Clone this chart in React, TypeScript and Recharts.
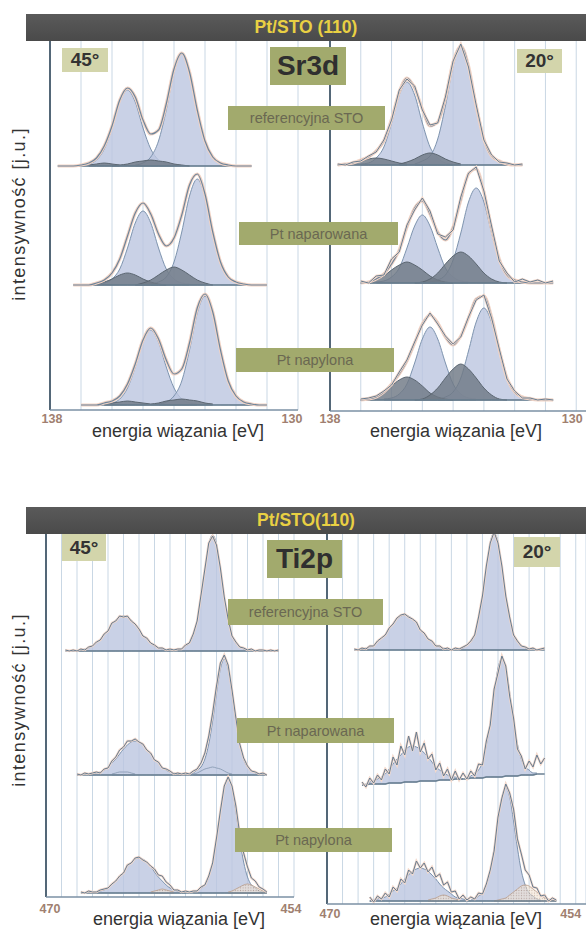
import React from 'react';
import { ComposedChart, Area, Line, XAxis, YAxis, CartesianGrid, ReferenceLine } from 'recharts';

// read-off step along the energy axis (eV)
const STEP = 0.25;

// x-axis: 1 eV grid lines, only the ends are labelled
const srTicks = [130, 131, 132, 133, 134, 135, 136, 137, 138];
const tiTicks = [454, 455, 456, 457, 458, 459, 460, 461, 462, 463, 464, 465, 466, 467, 468, 469, 470];
const srEnds = [138, 130];
const tiEnds = [470, 454];

// ---------- Sr3d, 45° (heights in arbitrary units, step 0.25 eV) ----------
// referencyjna STO
const srL1a = [1, 2, 6, 17, 38, 64, 76, 64, 38, 17, 6, 2, 1];
const srL1b = [1, 3, 9, 25, 56, 94, 112, 94, 56, 25, 9, 3, 1];
const srL1m1 = [1, 2, 3, 2, 1];
const srL1m2 = [0, 1, 2, 4, 5, 6, 5, 4, 2, 1, 0];
const srL1fit = [0, 0, 0, 1, 3, 8, 20, 40, 66, 78, 69, 46, 32, 36, 62, 97, 113, 94, 56, 25, 9, 3, 1, 0, 0, 0];
// Pt naparowana
const srL2a = [1, 2, 6, 16, 37, 62, 74, 62, 37, 16, 6, 2, 1];
const srL2b = [1, 3, 8, 23, 53, 89, 106, 89, 53, 23, 8, 3, 1];
const srL2m1 = [0, 1, 3, 6, 10, 12, 10, 6, 3, 1, 0];
const srL2m2 = [0, 2, 5, 10, 15, 18, 15, 10, 5, 2, 0];
const srL2fit = [0, 0, 0, 2, 5, 12, 26, 49, 72, 82, 71, 51, 39, 47, 70, 100, 111, 91, 53, 23, 8, 3, 1, 0, 0, 0];
// Pt napylona
const srL3a = [1, 2, 6, 17, 38, 63, 75, 63, 38, 17, 6, 2, 1];
const srL3b = [1, 3, 9, 24, 55, 92, 109, 92, 55, 24, 9, 3, 1];
const srL3m1 = [1, 2, 3, 4, 3, 2, 1];
const srL3m2 = [1, 2, 4, 5, 6, 5, 4, 2, 1];
const srL3fit = [0, 0, 0, 2, 4, 9, 21, 41, 65, 77, 66, 45, 31, 36, 62, 97, 111, 93, 55, 24, 9, 3, 1, 0, 0];

// ---------- Sr3d, 20° ----------
const srR1a = [1, 2, 7, 18, 42, 70, 83, 70, 42, 18, 7, 2, 1];
const srR1b = [1, 4, 9, 26, 59, 99, 118, 99, 59, 26, 9, 4, 1];
const srR1m1 = [1, 2, 4, 6, 7, 6, 4, 2, 1];
const srR1m2 = [1, 3, 6, 10, 12, 10, 6, 3, 1];
const srR1fit = [0, 1, 2, 5, 8, 14, 24, 46, 73, 87, 77, 56, 39, 43, 67, 103, 119, 99, 59, 26, 9, 4, 1, 0, 0];
const srR1meas = [1, 0, 3, 4, 9, 13, 25, 45, 75, 86, 79, 55, 40, 42, 68, 104, 121, 98, 60, 25, 10, 3, 2, 0, 1];

const srR2a = [1, 2, 6, 15, 35, 57, 68, 57, 35, 15, 6, 2, 1];
const srR2b = [1, 3, 8, 23, 50, 81, 95, 81, 50, 23, 8, 3, 1];
const srR2m1 = [0, 1, 3, 7, 13, 18, 21, 18, 13, 7, 3, 1, 0];
const srR2m2 = [0, 1, 4, 10, 19, 27, 31, 27, 19, 10, 4, 1, 0];
const srR2fit = [0, 1, 4, 9, 19, 33, 56, 75, 82, 69, 51, 43, 56, 83, 109, 114, 91, 54, 24, 8, 3, 1, 0, 0, 0, 0];
const srR2meas = [2, 0, 7, 8, 24, 31, 58, 73, 85, 72, 49, 46, 53, 86, 110, 116, 92, 57, 22, 10, 1, 4, 1, 3, 0, 2];

const srR3a = [1, 2, 6, 16, 37, 61, 73, 61, 37, 16, 6, 2, 1];
const srR3b = [1, 3, 8, 22, 49, 78, 92, 78, 49, 22, 8, 3, 1];
const srR3m1 = [0, 1, 3, 7, 14, 20, 23, 20, 14, 7, 3, 1, 0];
const srR3m2 = [0, 1, 5, 12, 22, 31, 36, 31, 22, 12, 5, 1, 0];
const srR3fit = [0, 1, 3, 8, 16, 26, 39, 57, 76, 85, 77, 63, 55, 64, 82, 101, 104, 83, 50, 22, 8, 3, 1, 0, 0, 0];
const srR3meas = [1, 2, 4, 9, 15, 28, 40, 58, 75, 87, 76, 64, 56, 63, 83, 100, 105, 82, 51, 21, 9, 2, 2, 0, 1, 0];

// ---------- Ti2p, 45° ----------
const tiL1a = [1, 2, 5, 8, 16, 31, 55, 82, 107, 116, 107, 82, 55, 31, 16, 8, 5, 2, 1];
const tiL1b = [0, 1, 2, 3, 5, 8, 12, 16, 21, 27, 31, 34, 35, 34, 31, 27, 21, 16, 12, 8, 5, 3, 2, 1, 0];
const tiL1meas = [1, 0, 1, 0, 2, 1, 4, 5, 9, 11, 17, 20, 28, 30, 35, 34, 35, 30, 27, 22, 15, 13, 8, 6, 3, 3, 1, 2, 1, 2,
  2, 6, 8, 17, 30, 56, 82, 108, 115, 106, 83, 54, 32, 15, 9, 4, 3, 1, 2, 0, 1, 1, 0, 1, 0, 1];

const tiL2a = [1, 2, 5, 8, 16, 31, 54, 82, 106, 116, 106, 82, 54, 31, 16, 8, 5, 2, 1];
const tiL2b = [0, 1, 2, 3, 5, 8, 12, 16, 21, 26, 30, 33, 34, 33, 30, 26, 21, 16, 12, 8, 5, 3, 2, 1, 0];
const tiL2m1 = [1, 2, 4, 6, 7, 8, 7, 6, 4, 2, 1];
const tiL2m2 = [1, 2, 3, 3, 3, 2, 1];
const tiL2meas = [1, 0, 2, 1, 2, 3, 2, 6, 7, 14, 18, 25, 28, 34, 34, 36, 33, 31, 25, 22, 15, 13, 7, 6, 4, 1, 2, 1, 2, 1,
  4, 6, 12, 22, 39, 62, 89, 112, 120, 110, 85, 57, 31, 17, 9, 4, 3, 1, 2, 0];

const tiL3a = [1, 2, 5, 8, 16, 31, 54, 82, 106, 115, 106, 82, 54, 31, 16, 8, 5, 2, 1];
const tiL3b = [0, 1, 2, 3, 5, 8, 12, 16, 21, 27, 31, 34, 35, 34, 31, 27, 21, 16, 12, 8, 5, 3, 2, 1, 0];
const tiL3s1 = [1, 2, 4, 6, 8, 9, 8, 6, 4, 2, 1];
const tiL3s2 = [1, 2, 3, 4, 3, 2, 1];
const tiL3meas = [1, 0, 2, 1, 1, 3, 4, 5, 9, 12, 17, 20, 28, 30, 35, 36, 33, 31, 27, 24, 18, 17, 11, 8, 3, 3, 1, 2, 1, 2,
  2, 6, 8, 17, 30, 55, 82, 107, 116, 107, 87, 59, 40, 26, 15, 12, 6, 4, 1];

// ---------- Ti2p, 20° ----------
const tiR1a = [1, 2, 5, 8, 16, 32, 55, 83, 108, 117, 108, 83, 55, 32, 16, 8, 5, 2, 1];
const tiR1b = [0, 1, 2, 3, 5, 8, 12, 16, 21, 27, 31, 34, 35, 34, 31, 27, 21, 16, 12, 8, 5, 3, 2, 1, 0];
const tiR1meas = [1, 0, 2, 1, 4, 4, 9, 12, 15, 22, 26, 32, 35, 36, 33, 31, 28, 20, 17, 11, 9, 4, 4, 1, 2, 0, 2, 1, 3, 5,
  9, 15, 33, 54, 84, 107, 118, 107, 84, 54, 33, 15, 9, 4, 3, 1, 2, 0, 1, 2];

const tiR2bg = [-11, -11, -10, -10, -10, -10, -10, -9, -9, -9, -9, -8, -8, -8, -8, -7, -7, -7, -7, -7, -6, -6, -6, -6,
  -5, -5, -5, -5, -4, -4, -4, -4, -3, -3, -3, -3, -3, -2, -2, -2, -2, -1, -1, -1, -1, 0, 0, 0];
const tiR2a = [1, 2, 5, 8, 16, 32, 55, 84, 109, 118, 109, 84, 55, 32, 16, 8, 5, 2, 1];
const tiR2b = [0, 1, 2, 3, 5, 7, 10, 14, 19, 24, 28, 32, 35, 36, 35, 32, 28, 24, 19, 14, 10, 7, 5, 3, 2, 1, 0];
const tiR2meas = [3, -2, 6, 1, 9, 4, 15, 9, 26, 18, 37, 27, 46, 31, 50, 29, 38, 22, 27, 11, 17, 4, 11, 0, 8, -1, 6, 0,
  7, 2, 14, 13, 36, 52, 88, 104, 121, 110, 80, 58, 27, 19, 6, 14, 8, 19, 10, 16];

const tiR3a = [1, 2, 5, 8, 16, 30, 53, 80, 104, 113, 104, 80, 53, 30, 16, 8, 5, 2, 1];
const tiR3b = [0, 1, 2, 3, 4, 7, 10, 13, 17, 22, 26, 30, 32, 33, 32, 30, 26, 22, 17, 13, 10, 7, 4, 3, 2, 1, 0];
const tiR3s1 = [0, 1, 2, 3, 6, 9, 12, 15, 16, 15, 12, 9, 6, 3, 2, 1, 0];
const tiR3s2 = [1, 2, 3, 5, 6, 5, 3, 2, 1];
const tiR3meas = [4, -1, 5, 2, 8, 4, 14, 10, 22, 18, 31, 27, 40, 33, 38, 29, 34, 24, 27, 16, 19, 9, 10, 2, 6, 1, 4, 2,
  8, 7, 17, 31, 50, 84, 103, 117, 108, 92, 62, 47, 31, 26, 14, 13, 5, 6, 0, 3, 1];

type Part = { from: number; v: number[] };
type Spectrum = {
  id: string;
  offset: number;
  span: [number, number];
  bg?: Part;
  main: Part[];
  minor?: Part[];
  thin?: Part[];
  dots?: Part[];
  fit?: Part;
  meas?: Part;
};

const srLeft: Spectrum[] = [
  { id: 'a1', offset: 244, span: [137.75, 131.5],
    main: [{ from: 137.0, v: srL1a }, { from: 135.25, v: srL1b }],
    minor: [{ from: 136.75, v: srL1m1 }, { from: 136.0, v: srL1m2 }],
    fit: { from: 137.75, v: srL1fit } },
  { id: 'a2', offset: 125, span: [137.25, 131.0],
    main: [{ from: 136.5, v: srL2a }, { from: 134.75, v: srL2b }],
    minor: [{ from: 136.75, v: srL2m1 }, { from: 135.25, v: srL2m2 }],
    fit: { from: 137.25, v: srL2fit } },
  { id: 'a3', offset: 5, span: [137.0, 131.0],
    main: [{ from: 136.25, v: srL3a }, { from: 134.5, v: srL3b }],
    minor: [{ from: 136.25, v: srL3m1 }, { from: 134.75, v: srL3m2 }],
    fit: { from: 137.0, v: srL3fit } },
];

const srRight: Spectrum[] = [
  { id: 'b1', offset: 246, span: [137.75, 131.75],
    main: [{ from: 137.0, v: srR1a }, { from: 135.25, v: srR1b }],
    minor: [{ from: 137.5, v: srR1m1 }, { from: 135.75, v: srR1m2 }],
    fit: { from: 137.75, v: srR1fit }, meas: { from: 137.75, v: srR1meas } },
  { id: 'b2', offset: 128, span: [137.0, 130.75],
    main: [{ from: 136.5, v: srR2a }, { from: 134.75, v: srR2b }],
    minor: [{ from: 137.0, v: srR2m1 }, { from: 135.25, v: srR2m2 }],
    fit: { from: 137.0, v: srR2fit }, meas: { from: 137.0, v: srR2meas } },
  { id: 'b3', offset: 11, span: [137.0, 130.75],
    main: [{ from: 136.25, v: srR3a }, { from: 134.5, v: srR3b }],
    minor: [{ from: 137.0, v: srR3m1 }, { from: 135.25, v: srR3m2 }],
    fit: { from: 137.0, v: srR3fit }, meas: { from: 137.0, v: srR3meas } },
];

const tiLeft: Spectrum[] = [
  { id: 'c1', offset: 246, span: [468.75, 455.0],
    main: [{ from: 468.0, v: tiL1b }, { from: 461.5, v: tiL1a }],
    meas: { from: 468.75, v: tiL1meas } },
  { id: 'c2', offset: 122, span: [468.0, 455.75],
    main: [{ from: 467.25, v: tiL2b }, { from: 460.75, v: tiL2a }],
    thin: [{ from: 460.5, v: tiL2m1 }, { from: 465.75, v: tiL2m2 }],
    meas: { from: 468.0, v: tiL2meas } },
  { id: 'c3', offset: 4, span: [467.75, 455.75],
    main: [{ from: 467.0, v: tiL3b }, { from: 460.5, v: tiL3a }],
    dots: [{ from: 458.25, v: tiL3s1 }, { from: 463.25, v: tiL3s2 }],
    meas: { from: 467.75, v: tiL3meas } },
];

const tiRight: Spectrum[] = [
  { id: 'd1', offset: 254, span: [468.25, 456.0],
    main: [{ from: 468.0, v: tiR1b }, { from: 461.5, v: tiR1a }],
    meas: { from: 468.25, v: tiR1meas } },
  { id: 'd2', offset: 130, span: [467.75, 456.0], bg: { from: 467.75, v: tiR2bg },
    main: [{ from: 467.75, v: tiR2b }, { from: 461.0, v: tiR2a }],
    meas: { from: 467.75, v: tiR2meas } },
  { id: 'd3', offset: 3, span: [467.25, 455.25],
    main: [{ from: 467.25, v: tiR3b }, { from: 460.75, v: tiR3a }],
    dots: [{ from: 459.25, v: tiR3s1 }, { from: 463.5, v: tiR3s2 }],
    meas: { from: 467.25, v: tiR3meas } },
];

function buildRows(spectra: Spectrum[], start: number, end: number) {
  const n = Math.round((start - end) / STEP) + 1;
  const rows: any[] = [];
  for (let i = 0; i < n; i++) rows.push({ e: +(start - i * STEP).toFixed(2) });
  const idx = (e: number) => Math.round((start - e) / STEP);

  spectra.forEach((s) => {
    const base = (i: number) => {
      if (!s.bg) return s.offset;
      const j = Math.max(0, Math.min(s.bg.v.length - 1, i - idx(s.bg.from)));
      return s.offset + s.bg.v[j];
    };
    if (s.bg) {
      s.bg.v.forEach((b, j) => { rows[idx(s.bg!.from) + j][`${s.id}_base`] = s.offset + b; });
    } else {
      rows[idx(s.span[0])][`${s.id}_base`] = s.offset;
      rows[idx(s.span[1])][`${s.id}_base`] = s.offset;
    }
    const area = (key: string, p: Part) =>
      p.v.forEach((v, j) => {
        const i = idx(p.from) + j;
        rows[i][key] = [base(i), base(i) + v];
      });
    const line = (key: string, p: Part) =>
      p.v.forEach((v, j) => {
        const i = idx(p.from) + j;
        rows[i][key] = base(i) + v;
      });
    s.main.forEach((p, k) => area(`${s.id}_main${k}`, p));
    (s.minor || []).forEach((p, k) => area(`${s.id}_minor${k}`, p));
    (s.thin || []).forEach((p, k) => area(`${s.id}_thin${k}`, p));
    (s.dots || []).forEach((p, k) => area(`${s.id}_dots${k}`, p));
    if (s.fit) { line(`${s.id}_fit`, s.fit); line(`${s.id}_fitH`, s.fit); }
    if (s.meas) { line(`${s.id}_meas`, s.meas); line(`${s.id}_measH`, s.meas); }
  });
  return rows;
}

type PanelCfg = {
  id: string;
  left: number;
  top: number;
  w: number;
  h: number;
  domain: [number, number];
  ticks: number[];
  ends: number[];
  shift: Record<number, number>;
  labelDy: number;
  spectra: Spectrum[];
};

const makeTick = (cfg: PanelCfg) => (props: any) => {
  const { x, y, payload } = props;
  const v = payload.value;
  if (!cfg.ends.includes(v)) return <g />;
  return (
    <text x={x + (cfg.shift[v] || 0)} y={y + cfg.labelDy} textAnchor="middle" fill="#a07f70"
      fontSize={12.5} fontWeight={700}>
      {v}
    </text>
  );
};

function Panel({ cfg }: { cfg: PanelCfg }) {
  const top = cfg.domain[1];
  const rows = buildRows(cfg.spectra, top, cfg.ticks[0]);
  const dotsId = `dots-${cfg.id}`;
  const series: any[] = [];
  cfg.spectra.forEach((s) => {
    series.push(
      <Line key={`${s.id}b`} dataKey={`${s.id}_base`} type="linear" stroke="#6b8092" strokeWidth={1.6}
        dot={false} activeDot={false} connectNulls isAnimationActive={false} />
    );
    s.main.forEach((_, k) =>
      series.push(
        <Area key={`${s.id}m${k}`} dataKey={`${s.id}_main${k}`} type="monotone" stroke="#7d93ae" strokeWidth={1}
          fill="#bcc6e0" fillOpacity={0.8} dot={false} activeDot={false} isAnimationActive={false} />
      )
    );
    (s.thin || []).forEach((_, k) =>
      series.push(
        <Area key={`${s.id}t${k}`} dataKey={`${s.id}_thin${k}`} type="monotone" stroke="#8396ad" strokeWidth={0.8}
          fill="none" dot={false} activeDot={false} isAnimationActive={false} />
      )
    );
    (s.minor || []).forEach((_, k) =>
      series.push(
        <Area key={`${s.id}n${k}`} dataKey={`${s.id}_minor${k}`} type="monotone" stroke="#5b6671" strokeWidth={1}
          fill="#6f7985" fillOpacity={0.82} dot={false} activeDot={false} isAnimationActive={false} />
      )
    );
    (s.dots || []).forEach((_, k) =>
      series.push(
        <Area key={`${s.id}d${k}`} dataKey={`${s.id}_dots${k}`} type="monotone" stroke="#b79c8a" strokeWidth={0.8}
          fill={`url(#${dotsId})`} dot={false} activeDot={false} isAnimationActive={false} />
      )
    );
    if (s.fit) {
      series.push(
        <Line key={`${s.id}fh`} dataKey={`${s.id}_fitH`} type="monotone" stroke="#f2d3c4" strokeWidth={3.2}
          dot={false} activeDot={false} isAnimationActive={false} />,
        <Line key={`${s.id}f`} dataKey={`${s.id}_fit`} type="monotone" stroke="#6d859b" strokeWidth={1.2}
          dot={false} activeDot={false} isAnimationActive={false} />
      );
    }
    if (s.meas) {
      series.push(
        <Line key={`${s.id}xh`} dataKey={`${s.id}_measH`} type="linear" stroke="#f3d9cc" strokeWidth={2.4}
          dot={false} activeDot={false} isAnimationActive={false} />,
        <Line key={`${s.id}x`} dataKey={`${s.id}_meas`} type="linear" stroke="#667c90" strokeWidth={1}
          dot={false} activeDot={false} isAnimationActive={false} />
      );
    }
  });

  return (
    <div style={{ position: 'absolute', left: cfg.left - 20, top: cfg.top }}>
      <ComposedChart width={cfg.w + 40} height={cfg.h + 26} data={rows}
        margin={{ top: 0, right: 20, bottom: 0, left: 20 }}>
        <defs>
          <pattern id={dotsId} width={2.6} height={2.6} patternUnits="userSpaceOnUse">
            <rect width={2.6} height={2.6} fill="#f3e5d5" />
            <circle cx={1.3} cy={1.3} r={0.6} fill="#a88670" />
          </pattern>
        </defs>
        <CartesianGrid horizontal={false} stroke="#c9d7e4" />
        <XAxis dataKey="e" type="number" domain={cfg.domain} reversed ticks={cfg.ticks} interval={0}
          allowDataOverflow height={26} tickSize={0} tickMargin={0} tickLine={false}
          axisLine={{ stroke: '#7b91a4', strokeWidth: 1.6 }} tick={makeTick(cfg)} />
        <YAxis hide type="number" domain={[0, cfg.h]} allowDataOverflow />
        <ReferenceLine x={top} stroke="#43596a" strokeWidth={1.8} ifOverflow="visible" />
        {series}
      </ComposedChart>
    </div>
  );
}

const panels: PanelCfg[] = [
  { id: 'srl', left: 50, top: 41, w: 248, h: 369, domain: [130, 138], ticks: srTicks, ends: srEnds,
    shift: { 138: 2, 130: -6 }, labelDy: 12.5, spectra: srLeft },
  { id: 'srr', left: 330, top: 41, w: 257, h: 370, domain: [129.65, 138], ticks: srTicks, ends: srEnds,
    shift: { 138: 0, 130: -4 }, labelDy: 12, spectra: srRight },
  { id: 'til', left: 46, top: 533, w: 248, h: 364, domain: [454, 470], ticks: tiTicks, ends: tiEnds,
    shift: { 470: 4, 454: -3 }, labelDy: 16, spectra: tiLeft },
  { id: 'tir', left: 327, top: 533, w: 259, h: 371, domain: [453.34, 470], ticks: tiTicks, ends: tiEnds,
    shift: { 470: 3, 454: -5 }, labelDy: 14, spectra: tiRight },
];

const OLIVE = '#a2aa6d';
const PALE = '#d3d5ab';

function Box({ x, y, w, h, bg, color, size, bold, children }: any) {
  return (
    <div style={{
      position: 'absolute', left: x, top: y, width: w, height: h, background: bg,
      display: 'flex', alignItems: 'center', justifyContent: 'center',
      color, fontSize: size, fontWeight: bold ? 700 : 400, whiteSpace: 'nowrap',
    }}>
      {children}
    </div>
  );
}

function Header({ top, text }: { top: number; text: string }) {
  return (
    <div style={{
      position: 'absolute', left: 26, top, width: 560, height: 27,
      background: 'linear-gradient(#5a5a5a, #4a4a4a)', color: '#e9d043',
      fontSize: 17.5, fontWeight: 700, textAlign: 'center', lineHeight: '27px',
    }}>
      {text}
    </div>
  );
}

function YLabel({ cy }: { cy: number }) {
  return (
    <div style={{
      position: 'absolute', left: 19 - 110, top: cy - 12, width: 220, height: 24,
      textAlign: 'center', lineHeight: '24px', fontSize: 18, color: '#333',
      letterSpacing: 1.4, transform: 'rotate(-90deg)', whiteSpace: 'nowrap',
    }}>
      intensywność [j.u.]
    </div>
  );
}

function XLabel({ cx, cy }: { cx: number; cy: number }) {
  return (
    <div style={{
      position: 'absolute', left: cx - 120, top: cy - 11, width: 240, height: 22,
      textAlign: 'center', lineHeight: '22px', fontSize: 18, color: '#333', whiteSpace: 'nowrap',
    }}>
      energia wiązania [eV]
    </div>
  );
}

const tagText = '#6a6852';

export default function App() {
  return (
    <div style={{
      position: 'absolute', left: 0, top: 0, width: 586, height: 936, overflow: 'hidden',
      background: '#ffffff', fontFamily: '"Liberation Sans", Arial, sans-serif',
    }}>
      {panels.map((p) => <Panel key={p.id} cfg={p} />)}

      <Header top={14} text="Pt/STO (110)" />
      <Header top={507} text="Pt/STO(110)" />

      {/* Sr3d tags */}
      <Box x={62} y={48} w={46} h={24} bg={PALE} color="#333" size={19} bold>45°</Box>
      <Box x={517} y={49} w={45} h={24} bg={PALE} color="#333" size={19} bold>20°</Box>
      <Box x={270} y={47} w={76} h={38} bg={OLIVE} color="#2f2f2f" size={28} bold>Sr3d</Box>
      <Box x={228} y={106} w={157} h={24} bg={OLIVE} color={tagText} size={14.5}>referencyjna STO</Box>
      <Box x={239} y={222} w={159} h={23} bg={OLIVE} color={tagText} size={14.5}>Pt naparowana</Box>
      <Box x={236} y={348} w={158} h={24} bg={OLIVE} color={tagText} size={14.5}>Pt napylona</Box>

      {/* Ti2p tags */}
      <Box x={62} y={534} w={44} h={27} bg={PALE} color="#333" size={19} bold>45°</Box>
      <Box x={514} y={537} w={46} h={30} bg={PALE} color="#333" size={19} bold>20°</Box>
      <Box x={267} y={540} w={75} h={38} bg={OLIVE} color="#2f2f2f" size={28} bold>Ti2p</Box>
      <Box x={228} y={599} w={155} h={26} bg={OLIVE} color={tagText} size={14.5}>referencyjna STO</Box>
      <Box x={237} y={718} w={157} h={25} bg={OLIVE} color={tagText} size={14.5}>Pt naparowana</Box>
      <Box x={235} y={828} w={157} h={24} bg={OLIVE} color={tagText} size={14.5}>Pt napylona</Box>

      <YLabel cy={214} />
      <YLabel cy={700} />
      <XLabel cx={178} cy={431} />
      <XLabel cx={456} cy={431} />
      <XLabel cx={179} cy={919} />
      <XLabel cx={456} cy={919} />
    </div>
  );
}
